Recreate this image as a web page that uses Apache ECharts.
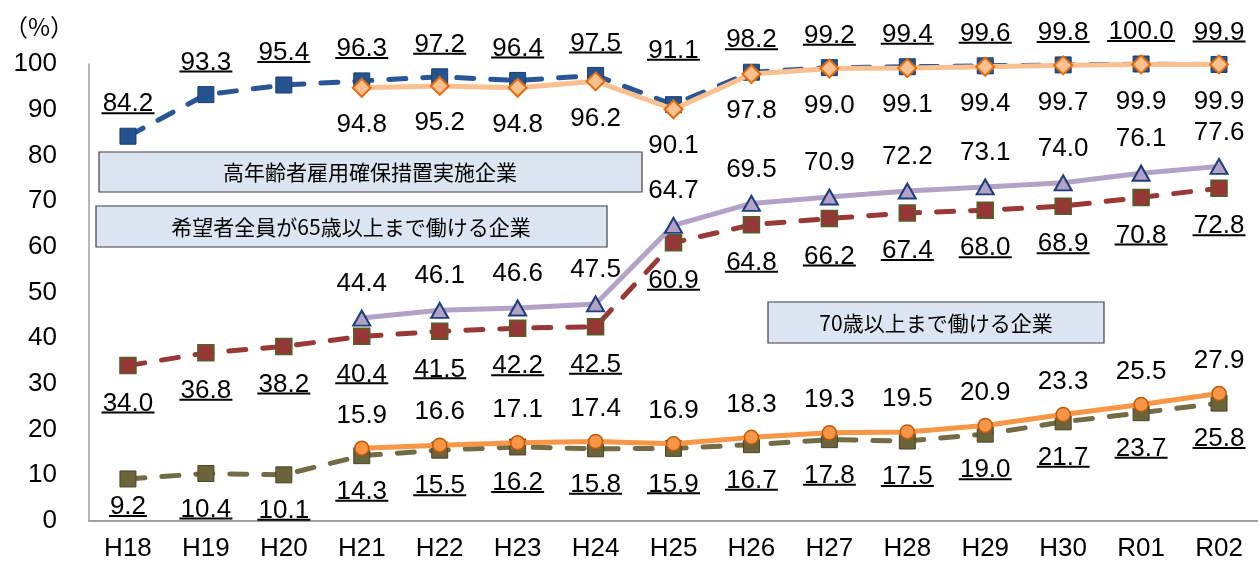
<!DOCTYPE html>
<html>
<head>
<meta charset="utf-8">
<script src="https://cdn.jsdelivr.net/npm/echarts@6/dist/echarts.min.js"></script>
<style>html,body{margin:0;padding:0;background:#fff;}#c{width:1258px;height:564px;}</style>
</head>
<body>
<div id="c"></div>
<script>
const categories = ['H18','H19','H20','H21','H22','H23','H24','H25','H26','H27','H28','H29','H30','R01','R02'];
const measures31 = [84.2, 93.3, 95.4, 96.3, 97.2, 96.4, 97.5, 91.1, 98.2, 99.2, 99.4, 99.6, 99.8, 100.0, 99.9];
const measures301 = [null, null, null, 94.8, 95.2, 94.8, 96.2, 90.1, 97.8, 99.0, 99.1, 99.4, 99.7, 99.9, 99.9];
const upTo65_301 = [null, null, null, 44.4, 46.1, 46.6, 47.5, 64.7, 69.5, 70.9, 72.2, 73.1, 74.0, 76.1, 77.6];
const upTo65_31 = [34.0, 36.8, 38.2, 40.4, 41.5, 42.2, 42.5, 60.9, 64.8, 66.2, 67.4, 68.0, 68.9, 70.8, 72.8];
const upTo70_301 = [null, null, null, 15.9, 16.6, 17.1, 17.4, 16.9, 18.3, 19.3, 19.5, 20.9, 23.3, 25.5, 27.9];
const upTo70_31 = [9.2, 10.4, 10.1, 14.3, 15.5, 16.2, 15.8, 15.9, 16.7, 17.8, 17.5, 19.0, 21.7, 23.7, 25.8];
const yTicks = [0, 10, 20, 30, 40, 50, 60, 70, 80, 90, 100];

const FONT = '"Liberation Sans", Arial, sans-serif';
const JFONT = '"Noto Sans CJK JP", sans-serif';
const FS = 26;

function fmt(v) { return Number(v).toFixed(1); }
const ulRich = {
  v: { fontSize: FS, lineHeight: 16, color: '#000', fontFamily: FONT },
  u3: { width: 38, height: 2, lineHeight: 2, fontSize: 2, backgroundColor: '#000' },
  u4: { width: 53, height: 2, lineHeight: 2, fontSize: 2, backgroundColor: '#000' },
  u5: { width: 68, height: 2, lineHeight: 2, fontSize: 2, backgroundColor: '#000' }
};
function ulLabel(off) {
  return {
    show: true, position: 'inside', offset: [0, off],
    formatter: p => { const t = fmt(p.value); return '{v|' + t + '}\n{u' + t.length + '| }'; },
    rich: ulRich
  };
}
function plainLabel(off) {
  return {
    show: true, position: 'inside', offset: [0, off],
    formatter: p => fmt(p.value),
    fontSize: FS, color: '#000', fontFamily: FONT
  };
}
function withOverride(arr, idx, off) {
  return arr.map((v, i) => i === idx ? { value: v, label: { offset: [0, off] } } : v);
}

const chart = echarts.init(document.getElementById('c'));
chart.setOption({
  animation: false,
  backgroundColor: '#fff',
  grid: { left: 89, right: -8, top: 64, bottom: 43 },
  xAxis: {
    type: 'category', data: categories, boundaryGap: true,
    axisLine: { show: true, lineStyle: { color: '#a0a0a0', width: 2 } },
    axisTick: { show: false },
    axisLabel: { fontSize: FS, color: '#000', fontFamily: FONT, margin: 15 }
  },
  yAxis: {
    type: 'value', min: yTicks[0], max: yTicks[yTicks.length - 1], interval: 10,
    axisLine: { show: true, lineStyle: { color: '#a0a0a0', width: 1.5 } },
    axisTick: { show: false },
    splitLine: { show: false },
    axisLabel: { fontSize: FS, color: '#000', fontFamily: FONT, margin: 32 }
  },
  series: [
    {
      name: '高年齢者雇用確保措置実施企業(31人以上)', type: 'line', data: withOverride(measures31, 7, -53),
      symbol: 'rect', symbolSize: 16,
      lineStyle: { color: '#2a5597', width: 5, type: [17, 17], cap: 'round' },
      itemStyle: { color: '#255390', borderColor: '#1b3d6c', borderWidth: 1 },
      label: ulLabel(-31), z: 2
    },
    {
      name: '高年齢者雇用確保措置実施企業(301人以上)', type: 'line', data: measures301,
      symbol: 'diamond', symbolSize: 18,
      lineStyle: { color: '#fac090', width: 5 },
      itemStyle: { color: '#fac090', borderColor: '#e46c0a', borderWidth: 2 },
      label: plainLabel(37), z: 3
    },
    {
      name: '希望者全員が65歳以上まで働ける企業(31人以上)', type: 'line', data: upTo65_31,
      symbol: 'rect', symbolSize: 16,
      lineStyle: { color: '#993836', width: 5, type: [17, 17], cap: 'round' },
      itemStyle: { color: '#953735', borderColor: '#4f6228', borderWidth: 1.5 },
      label: ulLabel(39), z: 2
    },
    {
      name: '希望者全員が65歳以上まで働ける企業(301人以上)', type: 'line', data: upTo65_301,
      symbol: 'triangle', symbolSize: [17, 15],
      lineStyle: { color: '#b3a2c7', width: 5 },
      itemStyle: { color: '#b3a2c7', borderColor: '#1f3d7a', borderWidth: 2 },
      label: plainLabel(-34), z: 3
    },
    {
      name: '70歳以上まで働ける企業(31人以上)', type: 'line', data: withOverride(upTo70_31, 0, 29),
      symbol: 'rect', symbolSize: 16,
      lineStyle: { color: '#736b45', width: 5, type: [17, 17], cap: 'round' },
      itemStyle: { color: '#6b6339', borderColor: '#4a4426', borderWidth: 1 },
      label: ulLabel(37), z: 2
    },
    {
      name: '70歳以上まで働ける企業(301人以上)', type: 'line', data: upTo70_301,
      symbol: 'circle', symbolSize: 14,
      lineStyle: { color: '#f79646', width: 5 },
      itemStyle: { color: '#f79646', borderColor: '#c0580a', borderWidth: 1.5 },
      label: plainLabel(-33), z: 3
    }
  ],
  graphic: [
    { type: 'text', left: 4, top: 15, style: { text: '（%）', fontSize: 24, fill: '#000', fontFamily: JFONT } },
    { type: 'rect', shape: { x: 99, y: 152, width: 543, height: 40 }, style: { fill: '#dce6f2', stroke: '#404040', lineWidth: 1.2 } },
    { type: 'text', x: 370, y: 172, style: { text: '高年齢者雇用確保措置実施企業', fontSize: 21, fill: '#000', fontFamily: JFONT, textAlign: 'center', textVerticalAlign: 'middle' } },
    { type: 'rect', shape: { x: 96, y: 206, width: 511, height: 41 }, style: { fill: '#dce6f2', stroke: '#404040', lineWidth: 1.2 } },
    { type: 'text', x: 351, y: 227, style: { text: '希望者全員が65歳以上まで働ける企業', fontSize: 21, fill: '#000', fontFamily: JFONT, textAlign: 'center', textVerticalAlign: 'middle' } },
    { type: 'rect', shape: { x: 768, y: 302, width: 336, height: 41 }, style: { fill: '#dce6f2', stroke: '#404040', lineWidth: 1.2 } },
    { type: 'text', x: 936, y: 323, style: { text: '70歳以上まで働ける企業', fontSize: 21, fill: '#000', fontFamily: JFONT, textAlign: 'center', textVerticalAlign: 'middle' } }
  ]
});
</script>
</body>
</html>
